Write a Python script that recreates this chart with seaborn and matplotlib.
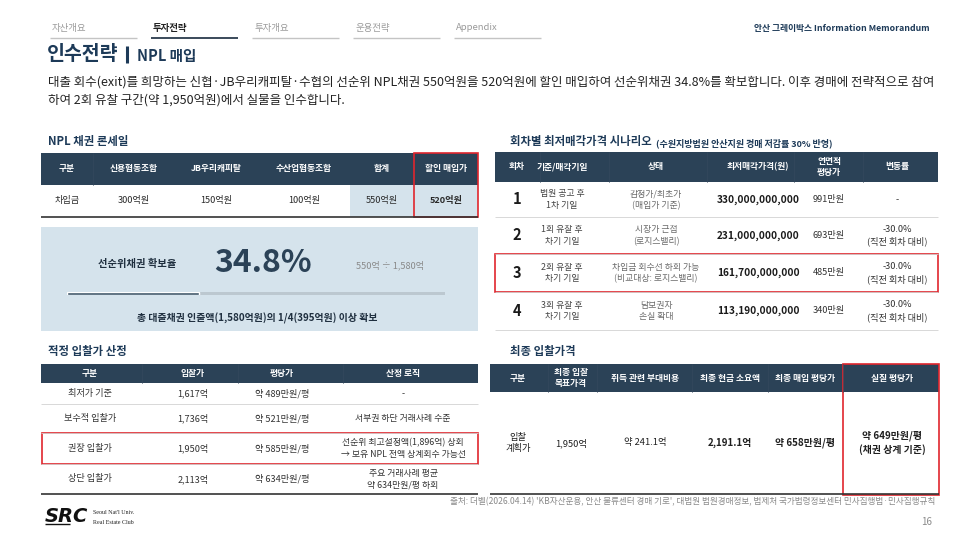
import matplotlib
matplotlib.use("Agg")
import matplotlib.pyplot as plt
import matplotlib.patches as mpatches
import seaborn as sns
import pandas as pd

sns.set_theme(style="white")
plt.rcParams['font.family'] = ['Noto Sans CJK KR', 'DejaVu Sans']

# ---- data ----
nav_tabs = ["자산개요", "투자전략", "투자개요", "운용전략", "Appendix"]
active_tab = 1
doc_name = "안산 그레이박스 Information Memorandum"
title_main = "인수전략"
title_sub = "NPL 매입"
summary_lines = [
    "대출 회수(exit)를 희망하는 신협·JB우리캐피탈·수협의 선순위 NPL채권 550억원을 520억원에 할인 매입하여 선순위채권 34.8%를 확보합니다. 이후 경매에 전략적으로 참여",
    "하여 2회 유찰 구간(약 1,950억원)에서 실물을 인수합니다.",
]

loan_cols = ["구분", "신용협동조합", "JB우리캐피탈", "수산업협동조합", "합계", "할인 매입가"]
loan_row = ["차입금", "300억원", "150억원", "100억원", "550억원", "520억원"]

secured_label = "선순위채권 확보율"
secured_ratio = 34.8
secured_formula = "550억 ÷ 1,580억"
secured_note = "총 대출채권 인출액(1,580억원)의 1/4(395억원) 이상 확보"

auction_cols = ["회차", "기준/매각기일", "상태", "최저매각가격(원)", "연면적\n평당가", "변동률"]
auction_round = ["1", "2", "3", "4"]
auction_date = ["법원 공고 후\n1차 기일", "1회 유찰 후\n차기 기일", "2회 유찰 후\n차기 기일", "3회 유찰 후\n차기 기일"]
auction_status = ["감정가/최초가\n(매입가 기준)", "시장가 근접\n(로지스밸리)",
                  "차입금 회수선 하회 가능\n(비교대상: 로지스밸리)", "담보권자\n손실 확대"]
auction_min_price = [330000000000, 231000000000, 161700000000, 113190000000]
auction_pyeong = ["991만원", "693만원", "485만원", "340만원"]
auction_change = ["-", "-30.0%\n(직전 회차 대비)", "-30.0%\n(직전 회차 대비)", "-30.0%\n(직전 회차 대비)"]

bid_cols = ["구분", "입찰가", "평당가", "산정 로직"]
bid_case = ["최저가 기준", "보수적 입찰가", "권장 입찰가", "상단 입찰가"]
bid_price = [1617, 1736, 1950, 2113]
bid_pyeong = [489, 521, 585, 634]
bid_logic = ["-", "서부권 하단 거래사례 수준",
             "선순위 최고설정액(1,896억) 상회\n→ 보유 NPL 전액 상계회수 가능선",
             "주요 거래사례 평균\n약 634만원/평 하회"]

final_cols = ["구분", "최종 입찰\n목표가격", "취득 관련 부대비용", "최종 현금 소요액", "최종 매입 평당가", "실질 평당가"]
final_row = ["입찰\n계획가", "1,950억", "약 241.1억", "2,191.1억", "약 658만원/평", "약 649만원/평\n(채권 상계 기준)"]
final_bold = [False, False, False, True, True, True]

source_text = "출처: 더벨(2026.04.14) 'KB자산운용, 안산 물류센터 경매 기로', 대법원 법원경매정보, 법제처 국가법령정보센터 민사집행법·민사집행규칙"
page_no = "16"

# ---- style ----
NAVY = "#2b4257"
TITLE = "#1d3a58"
TXT = "#2a2a2a"
GRAY = "#6b6b6b"
LIGHT = "#d5e3ec"
RED = "#e0262d"
SEP = "#d2d2d2"

fig = plt.figure(figsize=(9.8, 5.51), dpi=100)
ax = fig.add_axes([0, 0, 1, 1])
ax.set_xlim(0, 980)
ax.set_ylim(551, 0)
ax.axis('off')


def txt(x, y, s, size=6.5, weight='normal', color=TXT, ha='center', va='center', **kw):
    ax.text(x, y, s, fontsize=size, fontweight=weight, color=color, ha=ha, va=va,
            linespacing=1.35, **kw)


def rect(x0, y0, x1, y1, fc='none', ec='none', lw=0):
    ax.add_patch(mpatches.Rectangle((x0, y0), x1 - x0, y1 - y0, facecolor=fc,
                                    edgecolor=ec, linewidth=lw))


def hline(y, x0, x1, color=SEP, lw=0.6):
    ax.plot([x0, x1], [y, y], color=color, lw=lw, solid_capstyle='butt')


def header(x0, x1, y0, y1, centers, labels, seps):
    rect(x0, y0, x1, y1, fc=NAVY)
    for s in seps:
        ax.plot([s, s], [y0, y1], color="#34495e", lw=0.5)
    for cx, lab in zip(centers, labels):
        txt(cx, (y0 + y1) / 2, lab, size=6.3, weight='bold', color='white')


# ---- top nav ----
tab_x = [50, 151, 252, 353, 454]
for i, (tx, name) in enumerate(zip(tab_x, nav_tabs)):
    on = i == active_tab
    txt(tx + 2, 28, name, size=6.8, weight='bold' if on else 'normal',
        color="#222222" if on else "#9a9a9a", ha='left')
    hline(37.5, tx, tx + 87, color="#3a4a5a" if on else "#c4c4c4", lw=1.4 if on else 1.0)
txt(930, 28, doc_name, size=6.3, weight='bold', color=TITLE, ha='right')

# ---- title and summary ----
txt(47, 54, title_main, size=14, weight='bold', color=TITLE, ha='left')
ax.plot([127, 127], [46, 63], color=TITLE, lw=2.2, solid_capstyle='butt')
txt(137, 56, title_sub, size=10.5, weight='bold', color=TITLE, ha='left')
for i, line in enumerate(summary_lines):
    txt(48, 82 + 18.5 * i, line, size=9, color="#222222", ha='left')

# ---- section titles ----
txt(48, 142, "NPL 채권 론세일", size=8.2, weight='bold', color=TITLE, ha='left')
txt(510, 142, "회차별 최저매각가격 시나리오", size=8.2, weight='bold', color=TITLE, ha='left')
txt(656, 143, "(수원지방법원 안산지원 경매 저감률 30% 반영)", size=6.5, weight='bold', color=TITLE, ha='left')
txt(48, 352, "적정 입찰가 산정", size=8.2, weight='bold', color=TITLE, ha='left')
txt(510, 352, "최종 입찰가격", size=8.2, weight='bold', color=TITLE, ha='left')

# ---- table 1: loan sale ----
t1_edges = [41, 93, 174, 258, 350, 414, 478]
t1_c = [(a + b) / 2 for a, b in zip(t1_edges[:-1], t1_edges[1:])]
header(41, 478, 153, 185, t1_c, loan_cols, t1_edges[1:2])
rect(350, 185, 478, 217, fc=LIGHT)
for i, (cx, v) in enumerate(zip(t1_c, loan_row)):
    txt(cx, 201, v, size=6.6, weight='bold' if i == 5 else 'normal')
hline(217, 41, 478, color="#333333", lw=1.2)
rect(414, 153, 478, 217, ec=RED, lw=1.2)

# ---- secured ratio box ----
rect(41, 227, 478, 331, fc=LIGHT)
txt(137, 264, secured_label, size=7.4, weight='bold', color="#1f2f3f")
txt(263, 263, f"{secured_ratio:.1f}%", size=23, weight='heavy', color=NAVY)
txt(390, 265, secured_formula, size=6.6, color="#8a8a8a")
txt(257, 318, secured_note, size=7.1, weight='bold', color="#1f2f3f")

# progress bar drawn with seaborn
pax = fig.add_axes([67 / 980, 1 - 295 / 551, 378 / 980, 3 / 551])
pax.set_facecolor("#bcc8d0")
sns.barplot(data=pd.DataFrame({"v": [secured_ratio], "k": ["확보율"]}), x="v", y="k",
            orient='h', color="#3e5568", width=1.0, ax=pax, saturation=1)
pax.set_xlim(0, 100)
pax.set_ylim(0.5, -0.5)
pax.set_xticks([]); pax.set_yticks([])
pax.set_xlabel(""); pax.set_ylabel("")
for s in pax.spines.values():
    s.set_visible(False)

# ---- table 2: auction scenario ----
t2_c = [517, 562, 656, 758, 829, 897]
t2_seps = [(a + b) / 2 for a, b in zip(t2_c[:-1], t2_c[1:])]
header(495, 938, 152, 182, t2_c, auction_cols, t2_seps)
t2_rows = [182, 217, 254, 292, 330]
for i in range(4):
    yc = (t2_rows[i] + t2_rows[i + 1]) / 2
    txt(t2_c[0], yc, auction_round[i], size=10.5, weight='bold', color="#1a1a1a")
    txt(t2_c[1], yc, auction_date[i], size=6.4, color="#444444")
    txt(t2_c[2], yc, auction_status[i], size=6.4, color=GRAY)
    txt(t2_c[3], yc, f"{auction_min_price[i]:,}", size=7.3, weight='bold', color="#1a1a1a")
    txt(t2_c[4], yc, auction_pyeong[i], size=6.6, color="#333333")
    txt(t2_c[5], yc, auction_change[i], size=6.6, color="#333333")
    hline(t2_rows[i + 1], 495, 938, color=SEP, lw=0.6)
rect(495, 254, 938, 292, ec=RED, lw=1.2)

# ---- table 3: bid price ----
t3_c = [90, 193, 282, 403]
t3_seps = [(a + b) / 2 for a, b in zip(t3_c[:-1], t3_c[1:])]
header(41, 478, 364, 383, t3_c, bid_cols, t3_seps)
t3_rows = [383, 404, 433, 464, 494]
for i in range(4):
    yc = (t3_rows[i] + t3_rows[i + 1]) / 2
    txt(t3_c[0], yc, bid_case[i], size=6.6, color="#333333")
    txt(t3_c[1], yc, f"{bid_price[i]:,}억", size=6.6, color="#333333")
    txt(t3_c[2], yc, f"약 {bid_pyeong[i]}만원/평", size=6.6, color="#333333")
    txt(t3_c[3], yc, bid_logic[i], size=6.4, color="#333333")
    if i < 3:
        hline(t3_rows[i + 1], 41, 478, color=SEP, lw=0.6)
hline(494, 41, 478, color="#333333", lw=1.2)
rect(42, 433, 478, 464, ec=RED, lw=1.2)

# ---- table 4: final bid ----
t4_c = [518, 571, 645, 730, 805, 892]
t4_seps = [548, 597, 692, 768, 843]
header(490, 939, 364, 392, t4_c, final_cols, t4_seps)
for cx, v, b in zip(t4_c, final_row, final_bold):
    txt(cx, 443, v, size=7.1 if b else 6.7, weight='bold' if b else 'normal', color="#1f1f1f")
hline(494, 490, 939, color="#333333", lw=1.2)
rect(843, 364, 939, 495, ec=RED, lw=1.2)

# ---- footer ----
txt(935, 502, source_text, size=6.2, color="#8a8a8a", ha='right')
txt(932, 522, page_no, size=7, color="#8a8a8a", ha='right')
ax.text(45, 516, "SRC", fontsize=14, fontstyle='italic', fontweight='bold', color="#111111",
        family=['DejaVu Sans'], ha='left', va='center')
hline(524, 45, 70, color="#111111", lw=1.0)
ax.text(93, 513, "Seoul Nat'l Univ.", fontsize=4.3, family=['Liberation Serif'], color="#222222",
        ha='left', va='center')
ax.text(93, 522, "Real Estate Club", fontsize=4.3, family=['Liberation Serif'], color="#222222",
        ha='left', va='center')

fig.savefig("out.png", dpi=100, facecolor="white")
